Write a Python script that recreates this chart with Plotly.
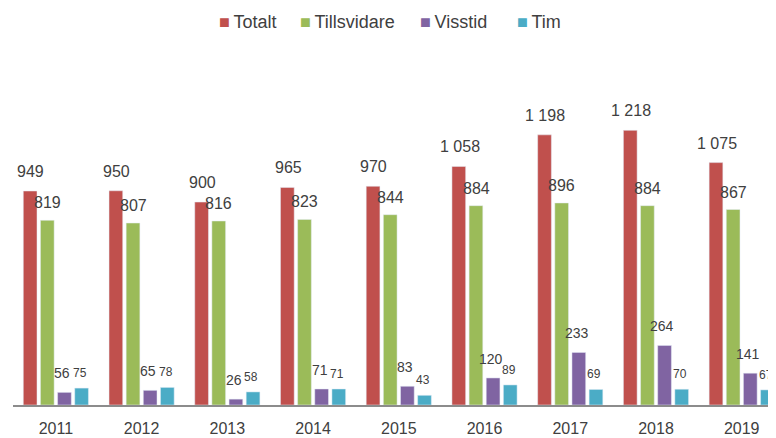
import plotly.graph_objects as go

years = ["2011", "2012", "2013", "2014", "2015", "2016", "2017", "2018", "2019"]
totalt = [949, 950, 900, 965, 970, 1058, 1198, 1218, 1075]
tillsvidare = [819, 807, 816, 823, 844, 884, 896, 884, 867]
visstid = [56, 65, 26, 71, 83, 120, 233, 264, 141]
tim = [75, 78, 58, 71, 43, 89, 69, 70, 67]

# name, values, colour, bar offset (px), label dx, label dy, label size, legend x (paper)
series = [
    ("Totalt", totalt, "#C0504D", -25.5, 0.5, 9, 16, 0.268),
    ("Tillsvidare", tillsvidare, "#9BBB59", -8.5, 0, 7, 16, 0.374),
    ("Visstid", visstid, "#8064A2", 8.5, -2, 9, 14, 0.531),
    ("Tim", tim, "#4BACC6", 25.5, -1.5, 6, 12, 0.658),
]


def fmt(v):
    return f"{v:,}".replace(",", " ")


fig = go.Figure()
annotations = []
for name, values, color, offset, dx, dy, size, lx in series:
    fig.add_trace(go.Bar(
        name=name,
        x=years,
        y=values,
        marker_color=color,
        hoverinfo="x+y",
        showlegend=False,
    ))
    for i, v in enumerate(values):
        annotations.append(dict(
            x=i, y=v, xref="x", yref="y",
            text=fmt(v), showarrow=False,
            xshift=offset + dx, yshift=dy, yanchor="bottom",
            font=dict(size=size, color="#404040"),
        ))
    # legend entry drawn as text
    annotations.append(dict(
        x=lx, y=1.109, xref="paper", yref="paper",
        xanchor="left", yanchor="middle", showarrow=False,
        text=f"<span style='color:{color};font-size:18px'>■</span>\u2009{name}",
        font=dict(size=18, color="#404040"),
    ))

fig.update_layout(
    width=768,
    height=430,
    margin=dict(l=5, r=0, t=52, b=33),
    paper_bgcolor="white",
    plot_bgcolor="white",
    font=dict(family="Liberation Sans, Arial, sans-serif", color="#404040", size=13),
    barmode="group",
    bargap=0.2,
    bargroupgap=0.2,
    annotations=annotations,
    showlegend=False,
)
fig.update_xaxes(
    type="category",
    range=[-0.5, 8.40],
    showline=True, linecolor="#8C8C8C", linewidth=2,
    ticks="", showgrid=False, automargin=False,
    ticklabelstandoff=8,
    tickfont=dict(size=16, color="#404040"),
)
fig.update_yaxes(range=[0, 1530], visible=False, showgrid=False)

fig.write_html("out.html")
